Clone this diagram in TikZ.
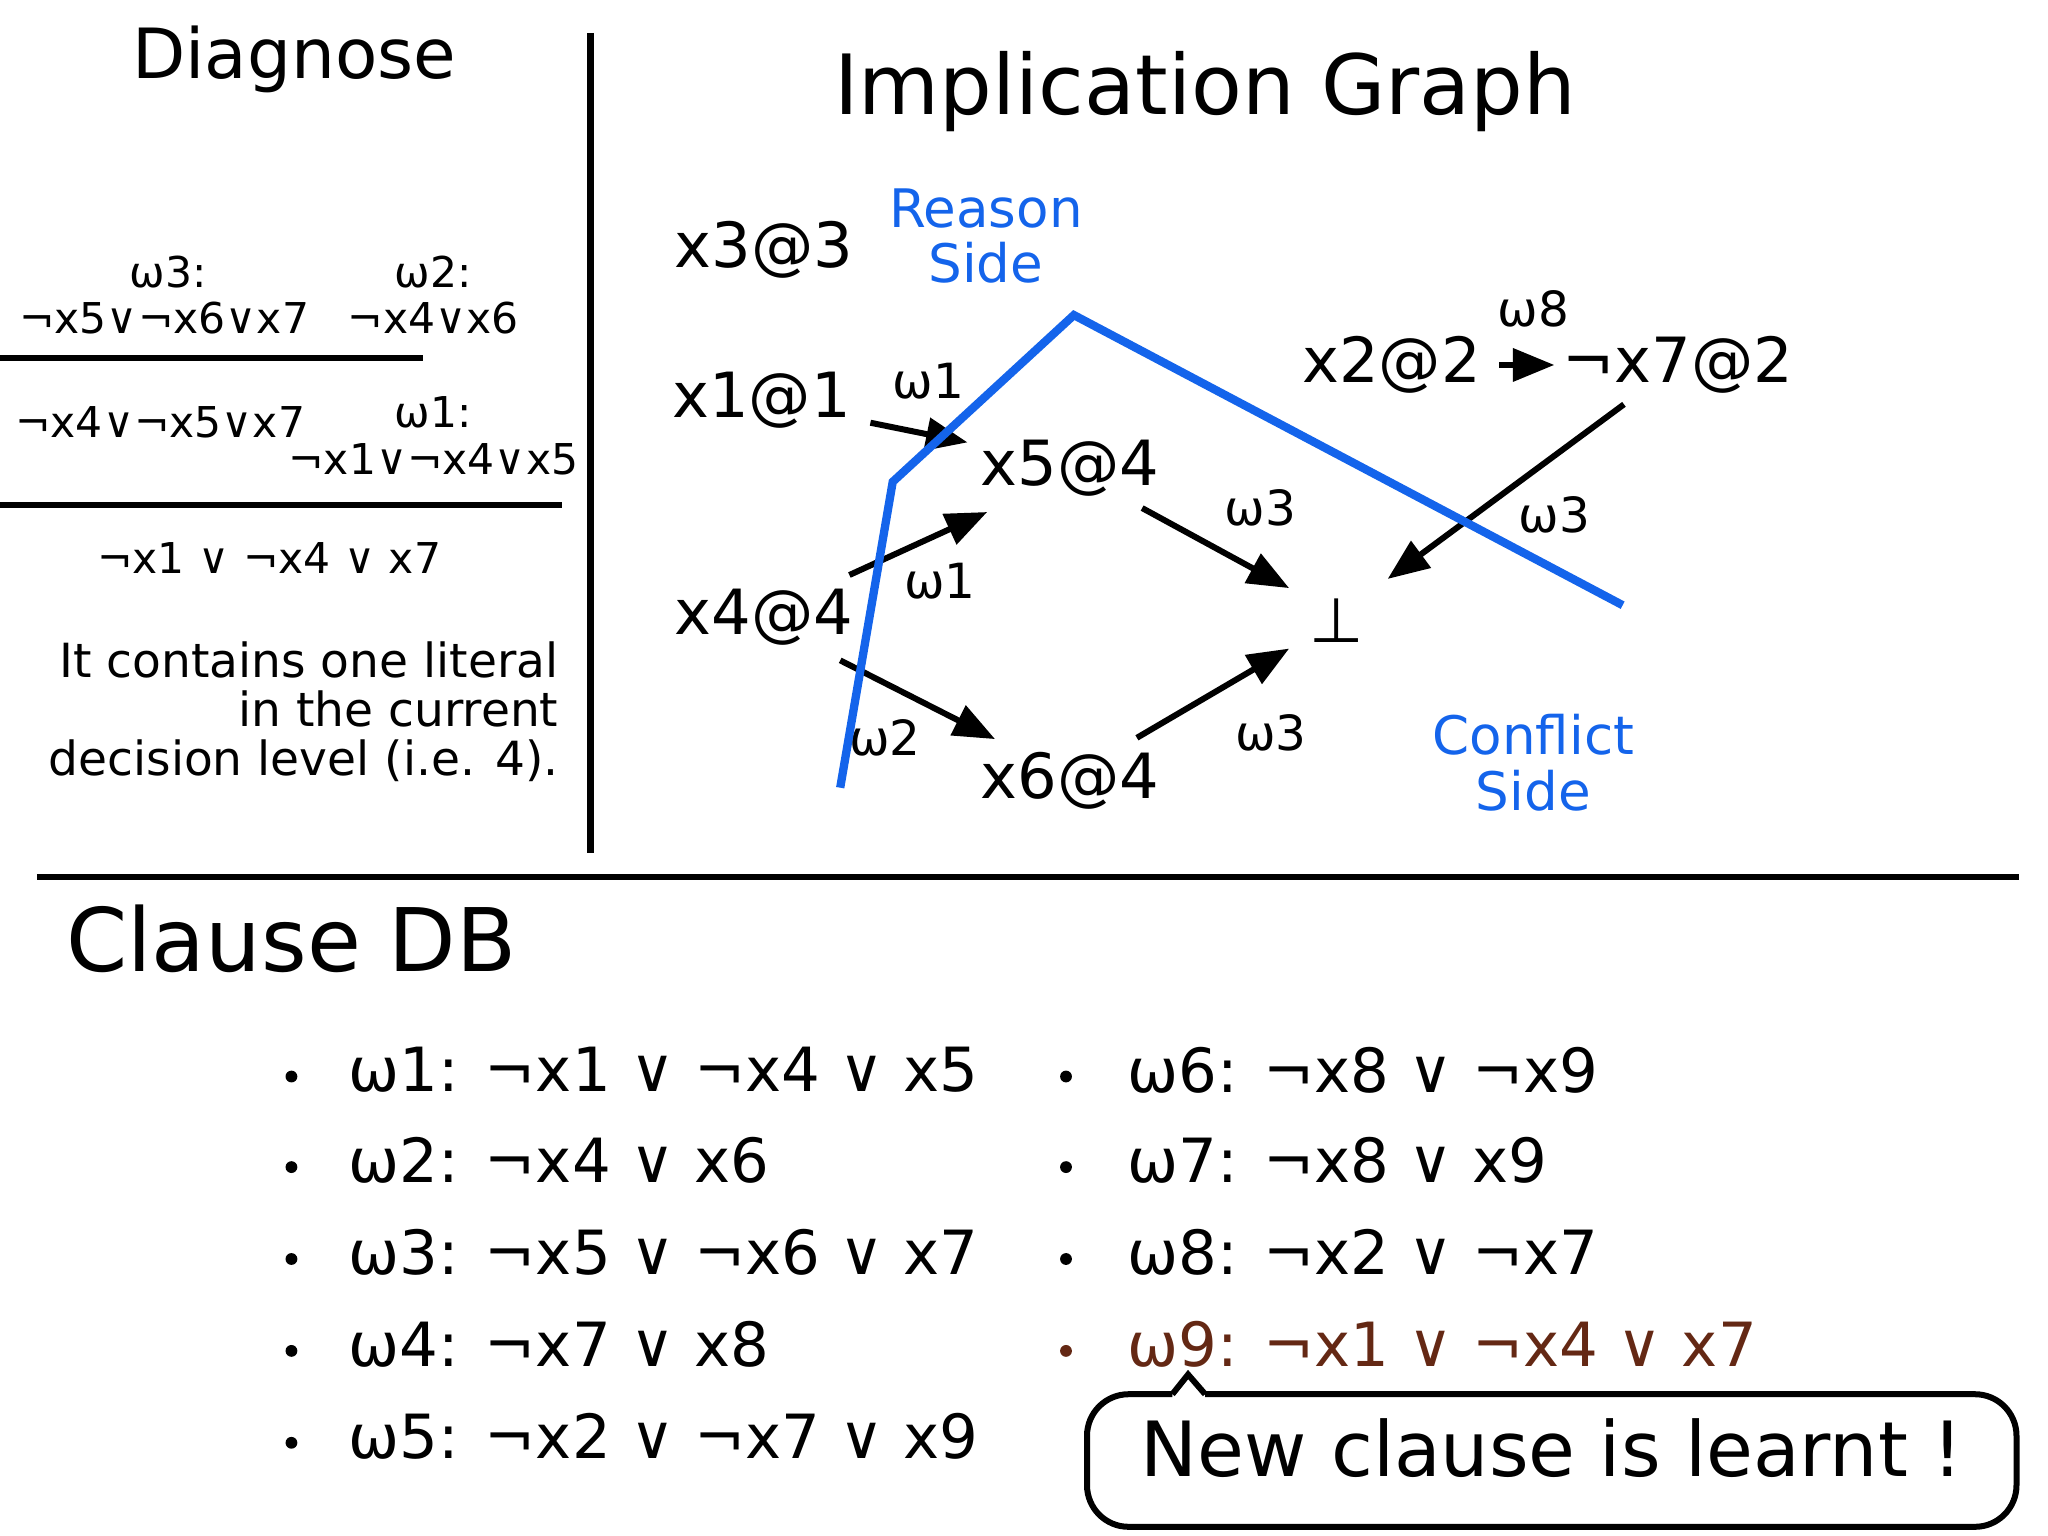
\documentclass[tikz,border=0pt]{standalone}
\usepackage{fontspec}
\setmainfont{DejaVu Sans}
\usetikzlibrary{arrows.meta}
\definecolor{cutblue}{RGB}{20,100,235}
\definecolor{newbrown}{RGB}{100,40,20}
\begin{document}
\begin{tikzpicture}[x=0.01cm,y=-0.01cm,
  gnode/.style={inner sep=0pt,font=\fontsize{13.5}{16}\selectfont},
  small/.style={inner sep=0pt,font=\fontsize{9.2}{11}\selectfont},
  lab/.style={inner sep=0pt,font=\fontsize{10.5}{12}\selectfont},
  item/.style={inner sep=0pt,anchor=west,font=\fontsize{13.2}{16}\selectfont},
  arr/.style={-{Triangle[length=9pt,width=7pt]},line width=1.3pt},
  blue/.style={text=cutblue,font=\fontsize{11.5}{12}\selectfont,align=center,inner sep=0pt}]
\useasboundingbox (0,0) rectangle (1560,1170);
% dividers
\draw[line width=1.5pt] (450,25) -- (450,650);
\draw[line width=1.5pt] (28,668) -- (1538,668);
% Diagnose
\node[inner sep=0pt,font=\fontsize{15}{18}\selectfont] (diag) at (224,45) {Diagnose};
\node[small] (d1) at (128,207) {ω3:};
\node[small] (d2) at (125,242) {¬x5∨¬x6∨x7};
\node[small] (d3) at (330,207) {ω2:};
\node[small] (d4) at (330,242) {¬x4∨x6};
\draw[line width=1.3pt] (0,273) -- (322,273);
\node[small] (d5) at (122,322) {¬x4∨¬x5∨x7};
\node[small] (d6) at (330,314) {ω1:};
\node[small] (d7) at (330,350) {¬x1∨¬x4∨x5};
\draw[line width=1.3pt] (0,385) -- (428,385);
\node[small] (d8) at (205,425) {¬x1 ∨ ¬x4 ∨ x7};
\node[inner sep=0pt,anchor=north east,align=right,font=\fontsize{10.2}{10.6}\selectfont] (d9) at (426,488)
  {It contains one literal\\in the current\\decision level (i.e. 4).};
% Graph
\node[inner sep=0pt,font=\fontsize{18}{22}\selectfont] (title) at (918,70) {Implication Graph};
\node[gnode] (x3) at (582,190) {x3@3};
\node[gnode] (x1) at (580,305) {x1@1};
\node[gnode] (x5) at (815,357) {x5@4};
\node[gnode] (x4) at (582,470) {x4@4};
\node[gnode] (x6) at (815,595) {x6@4};
\node[gnode] (bot) at (1018,473) {⊥};
\node[gnode] (x2) at (1060,278) {x2@2};
\node[gnode] (nx7) at (1278,278) {¬x7@2};
\node[lab] (w8) at (1168,235) {ω8};
\node[lab] (la) at (707,290) {ω1};
\node[lab] (lb) at (716,443) {ω1};
\node[lab] (lc) at (674,562) {ω2};
\node[lab] (ld) at (960,387) {ω3};
\node[lab] (le) at (968,558) {ω3};
\node[lab] (lf) at (1184,392) {ω3};
\coordinate (a1) at (663,322); \coordinate (b1) at (737,337);
\coordinate (a2) at (647,438); \coordinate (b2) at (752,390);
\coordinate (a3) at (640,503); \coordinate (b3) at (758,563);
\coordinate (a4) at (870,387); \coordinate (b4) at (982,448);
\coordinate (a5) at (866,562); \coordinate (b5) at (982,494);
\coordinate (a6) at (1237,308); \coordinate (b6) at (1057,441);
\coordinate (a7) at (1142,278); \coordinate (b7) at (1184,278);
\draw[arr] (a1) -- (b1);
\draw[arr] (a2) -- (b2);
\draw[arr] (a3) -- (b3);
\draw[arr] (a4) -- (b4);
\draw[arr] (a5) -- (b5);
\draw[arr] (a6) -- (b6);
\draw[arr] (a7) -- (b7);
\draw[cutblue,line width=1.8pt] (640,600) -- (680,367) -- (818,240) -- (1236,461);
\node[blue] (rs) at (751,180) {Reason\\Side};
\node[blue] (cs) at (1168,581) {Conflict\\Side};
% Clause DB
\node[inner sep=0pt,font=\fontsize{19}{22}\selectfont] (cdb) at (222,715) {Clause DB};
\foreach \y/\t [count=\i] in {815/{ω1: ¬x1 ∨ ¬x4 ∨ x5},884/{ω2: ¬x4 ∨ x6},954/{ω3: ¬x5 ∨ ¬x6 ∨ x7},1024/{ω4: ¬x7 ∨ x8},1094/{ω5: ¬x2 ∨ ¬x7 ∨ x9}}{
  \fill (222,\y+5) circle (4.5);
  \node[item] (l\i) at (265,\y) {\t};
}
\foreach \y/\t [count=\i] in {815/{ω6: ¬x8 ∨ ¬x9},884/{ω7: ¬x8 ∨ x9},954/{ω8: ¬x2 ∨ ¬x7}}{
  \fill (812,\y+5) circle (4.5);
  \node[item] (r\i) at (858,\y) {\t};
}
\fill[newbrown] (812,1029) circle (4.5);
\node[item,text=newbrown] (r4) at (858,1024) {ω9: ¬x1 ∨ ¬x4 ∨ x7};
% callout
\draw[line width=1.3pt,rounded corners=9pt] (893,1062) -- (828,1062) -- (828,1163) -- (1536,1163) -- (1536,1062) -- (918,1062);
\draw[line width=1.3pt] (893,1062) -- (905,1047) -- (918,1062);
\node[inner sep=0pt,font=\fontsize{16.5}{20}\selectfont] (new) at (1182,1103) {New clause is learnt !};
\end{tikzpicture}
\end{document}
